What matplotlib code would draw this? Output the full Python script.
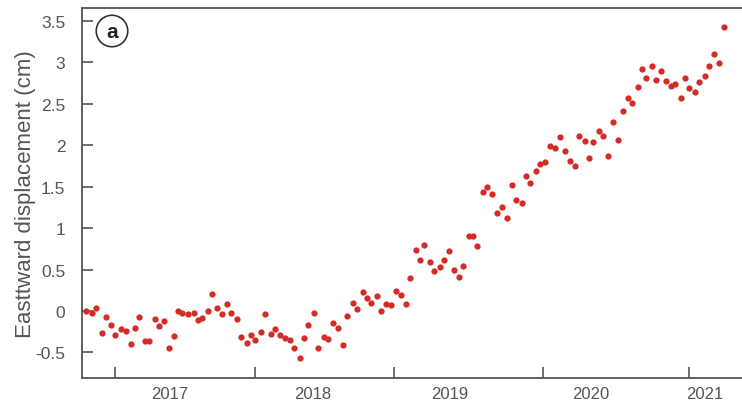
import matplotlib
matplotlib.use("Agg")
import matplotlib.pyplot as plt

# decimal-year dates
dates = [2016.80, 2016.84, 2016.87, 2016.91, 2016.94, 2016.97, 2017.00, 2017.04, 2017.08, 2017.11,
         2017.14, 2017.17, 2017.21, 2017.24, 2017.28, 2017.31, 2017.34, 2017.38, 2017.41, 2017.44,
         2017.47, 2017.51, 2017.55, 2017.58, 2017.61, 2017.65, 2017.68, 2017.71, 2017.75, 2017.78,
         2017.81, 2017.85, 2017.88, 2017.92, 2017.95, 2017.98, 2018.02, 2018.05, 2018.09, 2018.12,
         2018.15, 2018.19, 2018.22, 2018.25, 2018.29, 2018.32, 2018.35, 2018.39, 2018.42, 2018.46,
         2018.49, 2018.52, 2018.56, 2018.59, 2018.62, 2018.66, 2018.69, 2018.73, 2018.76, 2018.79,
         2018.83, 2018.86, 2018.89, 2018.93, 2018.96, 2019.00, 2019.03, 2019.06, 2019.10, 2019.13,
         2019.16, 2019.20, 2019.23, 2019.27, 2019.30, 2019.33, 2019.37, 2019.40, 2019.43, 2019.47,
         2019.50, 2019.53, 2019.57, 2019.60, 2019.63, 2019.67, 2019.70, 2019.74, 2019.77, 2019.80,
         2019.84, 2019.87, 2019.90, 2019.94, 2019.97, 2020.00, 2020.04, 2020.07, 2020.11, 2020.14,
         2020.18, 2020.21, 2020.24, 2020.28, 2020.31, 2020.34, 2020.38, 2020.41, 2020.44, 2020.48,
         2020.51, 2020.55, 2020.58, 2020.61, 2020.65, 2020.68, 2020.71, 2020.75, 2020.78, 2020.81,
         2020.85, 2020.88, 2020.91, 2020.95, 2020.98, 2021.01, 2021.05, 2021.08, 2021.12, 2021.15,
         2021.18, 2021.22, 2021.25]

east_cm = [0.00, -0.02, 0.04, -0.26, -0.07, -0.17, -0.29, -0.22, -0.24, -0.40,
           -0.20, -0.07, -0.36, -0.36, -0.10, -0.18, -0.12, -0.45, -0.30, 0.00,
           -0.02, -0.03, -0.02, -0.11, -0.08, 0.00, 0.20, 0.04, -0.03, 0.08,
           -0.02, -0.10, -0.31, -0.39, -0.29, -0.35, -0.25, -0.04, -0.28, -0.22,
           -0.29, -0.33, -0.35, -0.45, -0.57, -0.33, -0.17, -0.02, -0.45, -0.31,
           -0.34, -0.15, -0.21, -0.41, -0.06, 0.10, 0.03, 0.23, 0.16, 0.10,
           0.18, 0.00, 0.08, 0.07, 0.24, 0.19, 0.08, 0.40, 0.74, 0.62,
           0.80, 0.59, 0.48, 0.53, 0.62, 0.72, 0.49, 0.41, 0.54, 0.90,
           0.90, 0.78, 1.43, 1.50, 1.41, 1.18, 1.26, 1.12, 1.52, 1.34,
           1.30, 1.63, 1.54, 1.69, 1.77, 1.80, 1.99, 1.97, 2.10, 1.93,
           1.81, 1.75, 2.11, 2.05, 1.84, 2.04, 2.17, 2.11, 1.87, 2.28,
           2.06, 2.41, 2.57, 2.51, 2.70, 2.92, 2.81, 2.95, 2.79, 2.89,
           2.77, 2.71, 2.74, 2.57, 2.81, 2.69, 2.64, 2.76, 2.84, 2.96,
           3.10, 2.99, 3.42]

x_tick_marks = [2017.00, 2017.98, 2018.95, 2019.99, 2021.01]
x_label_pos = [2017.38, 2018.38, 2019.34, 2020.32, 2021.12]
x_labels = ["2017", "2018", "2019", "2020", "2021"]
y_ticks = [-0.5, 0, 0.5, 1, 1.5, 2, 2.5, 3, 3.5]
y_labels = ["-0.5", "0", "0.5", "1", "1.5", "2", "2.5", "3", "3.5"]

plt.rcParams['font.family'] = ['Liberation Sans', 'DejaVu Sans']
grey = "#555555"

fig = plt.figure(figsize=(7.42, 4.06), dpi=100)
ax = fig.add_axes([82/742, 27/406, 1 - 82/742 + 0.01, (379-9)/406])

ax.plot(dates, east_cm, 'o', color='#d42b26', markersize=4.5, markeredgewidth=0)

ax.set_xlim(2016.77, 2021.43)
ax.set_ylim(-0.808, 3.655)

ax.set_xticks(x_tick_marks)
ax.set_xticklabels([])
ax.set_xticks(x_label_pos, minor=True)
ax.set_xticklabels(x_labels, minor=True)
ax.tick_params(axis='x', which='major', direction='in', length=8, width=1.2, color=grey)
ax.tick_params(axis='x', which='minor', length=0, pad=6, labelsize=12, labelcolor=grey)

ax.set_yticks(y_ticks)
ax.set_yticklabels(y_labels)
ax.tick_params(axis='y', direction='in', length=8, width=1.2, color=grey,
               pad=12, labelsize=12.5, labelcolor=grey)

for side in ['left', 'bottom', 'top']:
    ax.spines[side].set_color(grey)
    ax.spines[side].set_linewidth(1.3)
ax.spines['right'].set_visible(False)

ax.set_ylabel("Easttward displacement (cm)", fontsize=16, color=grey)
ax.yaxis.set_label_coords(-0.069, 0.5)

ax.text(112/742, 1 - 32/406, "a", transform=fig.transFigure, fontsize=15, fontweight='bold',
        color='#222222', ha='center', va='center',
        bbox=dict(boxstyle='circle,pad=0.3', fc='white', ec='#333333', lw=1.2))

fig.savefig("out.png", dpi=100)
